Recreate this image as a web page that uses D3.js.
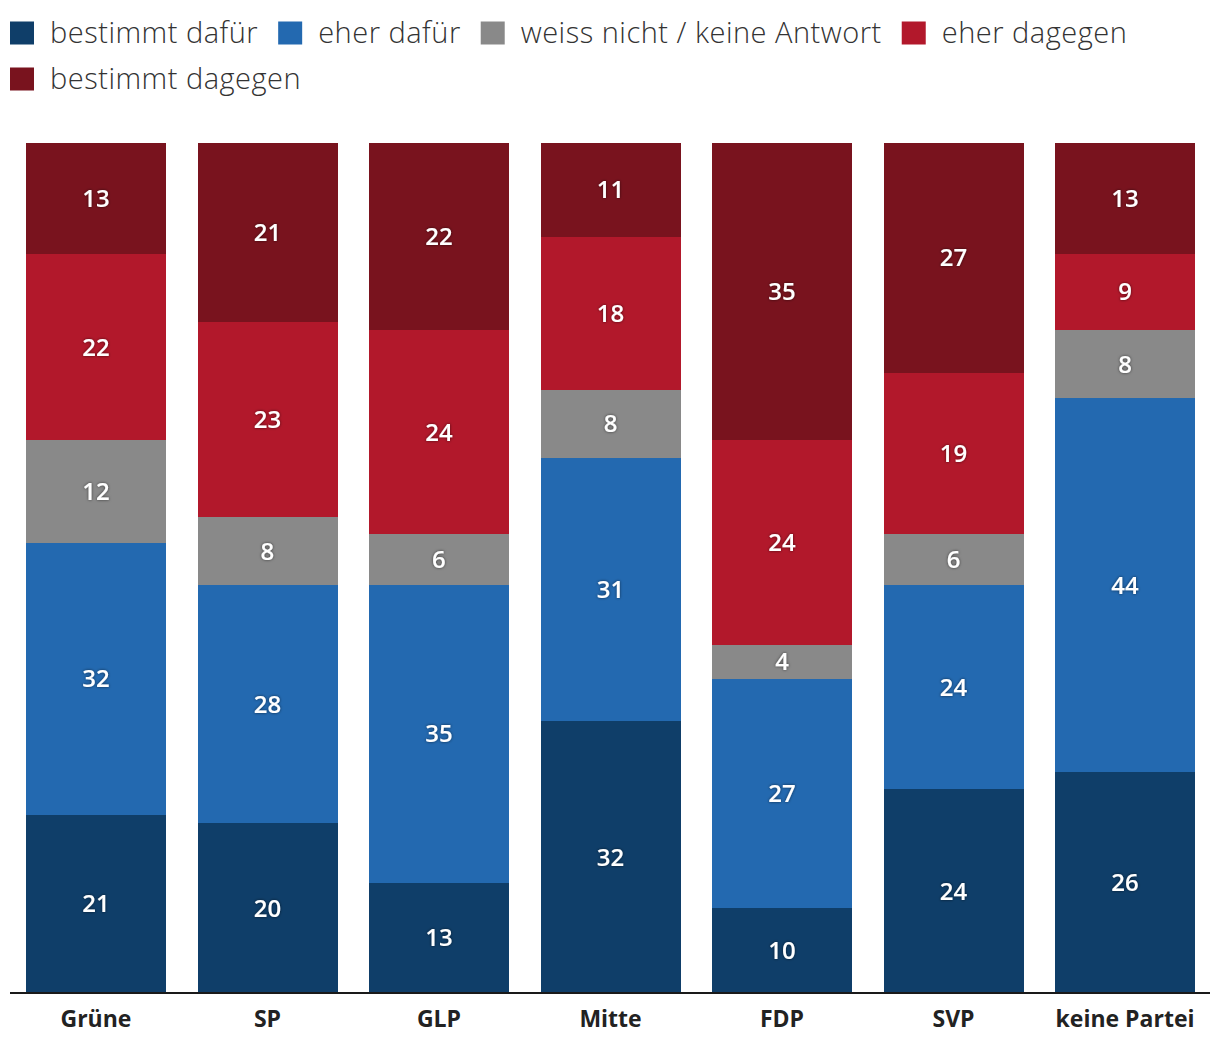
<!DOCTYPE html>
<html><head><meta charset="utf-8">
<script src="https://cdn.jsdelivr.net/npm/d3@7"></script>
<style>
body{margin:0;background:#fff;}
svg{display:block;font-family:"Open Sans","Noto Sans",sans-serif;}
.val{fill:#fff;font-weight:600;font-size:24px;text-anchor:middle;}
.cat{fill:#222;font-weight:700;font-size:23px;text-anchor:middle;font-family:"Open Sans","Noto Sans",sans-serif;}
.leg{fill:#333;font-weight:300;font-size:29px;letter-spacing:0.5px;}
</style></head><body>
<svg id="c" width="1220" height="1056"></svg>
<script>
const categories = ["Grüne","SP","GLP","Mitte","FDP","SVP","keine Partei"];
const seriesNames = ["bestimmt dafür","eher dafür","weiss nicht / keine Antwort","eher dagegen","bestimmt dagegen"];
const seriesColors = ["#0f3e69","#2369b0","#898989","#b2182b","#79131e"];
const bestimmtDafuer = [21,20,13,32,10,24,26];
const eherDafuer = [32,28,35,31,27,24,44];
const weissNicht = [12,8,6,8,4,6,8];
const eherDagegen = [22,23,24,18,24,19,9];
const bestimmtDagegen = [13,21,22,11,35,27,13];

const seriesValues = [bestimmtDafuer,eherDafuer,weissNicht,eherDagegen,bestimmtDagegen];
const rows = categories.map((c,i)=>{const o={cat:c};seriesNames.forEach((s,j)=>o[s]=seriesValues[j][i]);return o;});
const stack = d3.stack().keys(seriesNames)(rows);

const svg = d3.select("#c");
const defs = svg.append("defs");
const f = defs.append("filter").attr("id","sh").attr("x","-20%").attr("y","-20%").attr("width","140%").attr("height","140%");
f.append("feDropShadow").attr("dx",0).attr("dy",0).attr("stdDeviation",1.5).attr("flood-color","#000").attr("flood-opacity",0.6);

const x = d3.scaleBand().domain(categories).range([26,1195]).paddingInner(0.184).paddingOuter(0);
const y = d3.scaleLinear().domain([0,100]).range([993,143]);

const g = svg.append("g");
stack.forEach((layer,j)=>{
  const lg = g.append("g").attr("fill",seriesColors[j]).attr("shape-rendering","crispEdges");
  lg.selectAll("rect").data(layer).join("rect")
    .attr("x",d=>Math.round(x(d.data.cat))).attr("width",Math.round(x.bandwidth()))
    .attr("y",d=>Math.round(y(d[1]))).attr("height",d=>Math.round(y(d[0]))-Math.round(y(d[1])));
});
stack.forEach((layer,j)=>{
  g.append("g").selectAll("text").data(layer).join("text").attr("class","val")
    .attr("filter","url(#sh)")
    .attr("x",d=>x(d.data.cat)+x.bandwidth()/2)
    .attr("y",d=>(y(d[0])+y(d[1]))/2).attr("dy","0.36em")
    .text(d=>d[1]-d[0]);
});

const ax = svg.append("g").attr("transform","translate(0,993)")
  .call(d3.axisBottom(x).tickSize(0).tickPadding(18));
ax.attr("font-family",null).attr("font-size",null);
ax.select(".domain").remove();
ax.append("line").attr("x1",10).attr("x2",1210).attr("stroke","#1a1a1a").attr("stroke-width",2);
ax.selectAll(".tick text").attr("class","cat").attr("fill",null).attr("dy","0.71em");

// legend
const leg = svg.append("g");
let lx = 10, ly = 33;
seriesNames.forEach((s,j)=>{
  const it = leg.append("g");
  const t = it.append("text").attr("class","leg").attr("x",40).attr("y",0).attr("dy","0.35em").text(s);
  const w = 40 + t.node().getComputedTextLength();
  if (lx + w > 1210) { lx = 10; ly += 46; }
  it.attr("transform",`translate(${lx},${ly})`);
  it.insert("rect","text").attr("x",0).attr("y",-11.5).attr("width",24).attr("height",23).attr("fill",seriesColors[j]);
  lx += w + 20;
});
</script>
</body></html>
